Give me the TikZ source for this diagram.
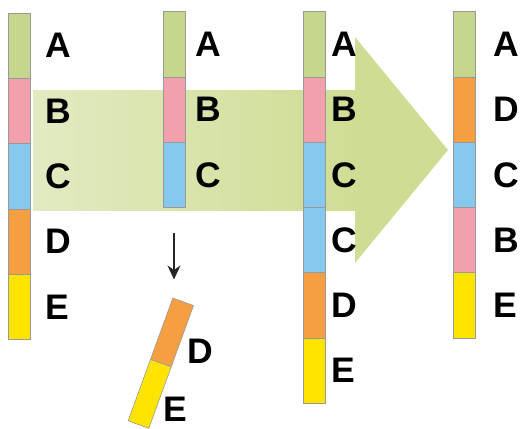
\documentclass[tikz,border=0pt]{standalone}
\usepackage{fontspec}
\setmainfont{Liberation Sans}
\usetikzlibrary{arrows.meta,positioning,backgrounds}

\definecolor{segA}{RGB}{196,215,140}
\definecolor{segB}{RGB}{242,160,172}
\definecolor{segC}{RGB}{135,200,238}
\definecolor{segD}{RGB}{245,158,66}
\definecolor{segE}{RGB}{255,228,0}
\definecolor{arrL}{RGB}{226,234,194}
\definecolor{arrM}{RGB}{236,241,210}
\definecolor{arrR}{RGB}{207,221,148}

\begin{document}
\begin{tikzpicture}[
  x=1pt,y=-1pt,
  node distance=0pt,
  seg/.style={draw=black!40,line width=0.6pt,minimum width=22pt,minimum height=65.3pt,inner sep=0pt,outer sep=0pt},
  sA/.style={seg,fill=segA},
  sB/.style={seg,fill=segB},
  sC/.style={seg,fill=segC},
  sD/.style={seg,fill=segD},
  sE/.style={seg,fill=segE},
  lbl/.style={font=\fontsize{35.5}{38}\selectfont\bfseries,inner sep=0pt},
  every label/.style={lbl},
  drop/.style={-{Stealth[length=14pt,width=13pt]},line width=1.5pt,draw=black!85},
]
\useasboundingbox (0,0) rectangle (523,429);

% column 1: original
\begin{scope}[label distance=15pt]
\node[sA,label=right:A] (a1) at (19.5,45.7) {};
\node[sB,label=right:B,below=of a1] (b1) {};
\node[sC,label=right:C,below=of b1] (c1) {};
\node[sD,label=right:D,below=of c1] (d1) {};
\node[sE,label=right:E,below=of d1] (e1) {};
\end{scope}

% column 2: broken piece
\begin{scope}[label distance=10pt]
\node[sA,label=right:A] (a2) at (174,44.2) {};
\node[sB,label=right:B,below=of a2] (b2) {};
\node[sC,label=right:C,below=of b2] (c2) {};
\end{scope}

% the piece that falls off
\node[sD,rotate=-20] (td) at (172,332.5) {};
\node[sE,rotate=-20,below=of td] (te) {};
\node[lbl,anchor=west] (tdl) at ([shift={(5,15)}]td.east) {D};
\node[lbl,anchor=west] (tel) at ([shift={(3,12)}]te.east) {E};

\coordinate[below=26pt of c2] (dtop);
\coordinate[below=46pt of dtop] (dend);
\draw[drop] (dtop) -- (dend);

% column 3: duplication
\begin{scope}[label distance=6pt]
\node[sA,label=right:A] (a3) at (314,44.2) {};
\node[sB,label=right:B,below=of a3] (b3) {};
\node[sC,label=right:C,below=of b3] (c3) {};
\node[sC,label=right:C,below=of c3] (cc3) {};
\node[sD,label=right:D,below=of cc3] (d3) {};
\node[sE,label=right:E,below=of d3] (e3) {};
\end{scope}

% column 4: inversion
\begin{scope}[label distance=18pt]
\node[sA,label=right:A] (a4) at (464,44.2) {};
\node[sD,label=right:D,below=of a4] (d4) {};
\node[sC,label=right:C,below=of d4] (c4) {};
\node[sB,label=right:B,below=of c4] (b4) {};
\node[sE,label=right:E,below=of b4] (e4) {};
\end{scope}

% big arrow behind the bars
\begin{scope}[on background layer]
\shade[left color=arrL,middle color=arrM,right color=arrR] (33,90) rectangle (356,210);
\fill[arrR] (355,37) -- (448,150) -- (355,263) -- cycle;
\end{scope}

\end{tikzpicture}
\end{document}
